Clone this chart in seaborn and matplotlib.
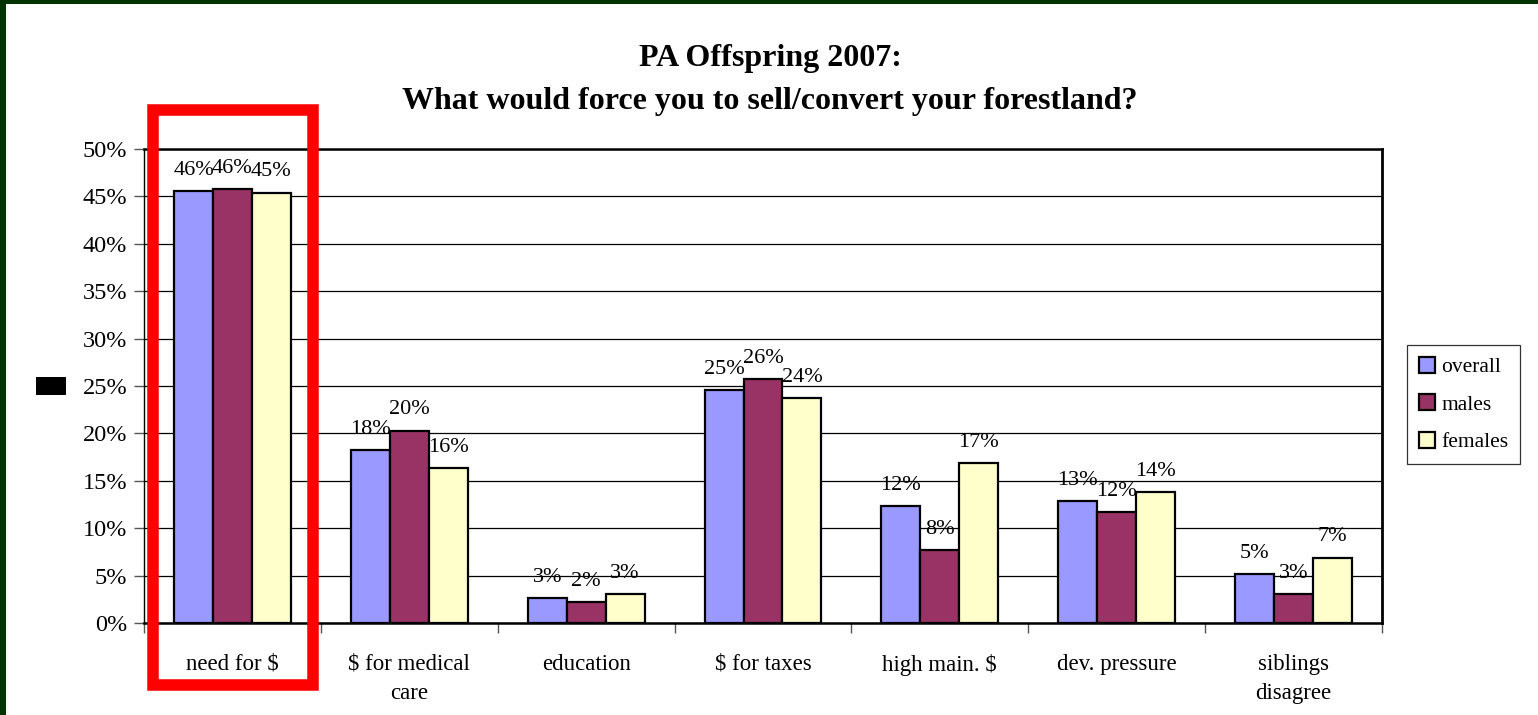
import matplotlib
matplotlib.use("Agg")
import matplotlib.pyplot as plt
import matplotlib.patches as mpatches
from matplotlib.ticker import FixedLocator, FuncFormatter
import seaborn as sns
import pandas as pd

categories = ["need for $", "$ for medical\ncare", "education", "$ for taxes",
              "high main. $", "dev. pressure", "siblings\ndisagree"]
overall = [45.6, 18.2, 2.6, 24.6, 12.3, 12.9, 5.2]
males = [45.8, 20.3, 2.2, 25.7, 7.7, 11.7, 3.1]
females = [45.4, 16.3, 3.1, 23.7, 16.9, 13.8, 6.9]
groups = ["overall", "males", "females"]
colors = ["#9999FF", "#993366", "#FFFFCC"]
title = "PA Offspring 2007:\nWhat would force you to sell/convert your forestland?"

rows = []
for g, vals in zip(groups, [overall, males, females]):
    for c, v in zip(categories, vals):
        rows.append({"category": c, "group": g, "value": v})
df = pd.DataFrame(rows)

sns.set_theme(style="white")
plt.rcParams["font.family"] = ["Liberation Serif", "DejaVu Serif"]
plt.rcParams["text.color"] = "black"
plt.rcParams["xtick.color"] = "black"
plt.rcParams["ytick.color"] = "black"

W, H = 1538, 715
fig = plt.figure(figsize=(W / 100, H / 100), dpi=100)
fig.patch.set_facecolor("white")
ax = fig.add_axes([144 / W, 1 - 623 / H, (1382 - 144) / W, (623 - 149) / H])

sns.barplot(data=df, x="category", y="value", hue="group", order=categories,
            hue_order=groups, palette=colors, width=0.66, edgecolor="black",
            linewidth=1.6, saturation=1, ax=ax, errorbar=None)

ax.set_ylim(0, 50)
ax.set_xlim(-0.5, len(categories) - 0.5)
ax.yaxis.set_major_locator(FixedLocator(list(range(0, 51, 5))))
ax.yaxis.set_major_formatter(FuncFormatter(lambda v, p: f"{v:.0f}%"))
ax.set_axisbelow(True)
ax.yaxis.grid(True, color="black", linewidth=0.9)
ax.set_xlabel("")
ax.set_ylabel("")
ax.tick_params(axis="y", labelsize=17.5, length=7, width=1, color="#555555",
               labelcolor="black", left=True, direction="out", pad=5)
ax.tick_params(axis="x", which="major", labelsize=16.5, length=0, pad=22,
               labelcolor="black")
ax.set_xticks([i + 0.5 for i in range(-1, len(categories))], minor=True)
ax.tick_params(axis="x", which="minor", length=7, width=1, color="#555555",
               bottom=True, direction="out")
for lab in ax.get_xticklabels():
    lab.set_linespacing(1.5)

for s in ["top", "right", "bottom", "left"]:
    ax.spines[s].set_visible(True)
    ax.spines[s].set_color("black")
ax.spines["top"].set_linewidth(1.8)
ax.spines["right"].set_linewidth(2.0)
ax.spines["bottom"].set_linewidth(1.8)
ax.spines["left"].set_linewidth(1.0)

for cont in ax.containers:
    ax.bar_label(cont, fmt="{:.0f}%", padding=8, fontsize=16, color="black")

handles, labels = ax.get_legend_handles_labels()
if ax.get_legend() is not None:
    ax.get_legend().remove()
leg = fig.legend(handles, labels, loc="upper left",
                 bbox_to_anchor=(1407 / W, 1 - 345 / H),
                 bbox_transform=fig.transFigure, frameon=True, fancybox=False,
                 fontsize=15.5, handlelength=0.75, handleheight=0.75,
                 handletextpad=0.3, labelspacing=0.8, borderpad=0.55,
                 borderaxespad=0)
leg.get_frame().set_edgecolor("black")
leg.get_frame().set_linewidth(0.9)
for h in leg.legend_handles:
    h.set_edgecolor("black")
    h.set_linewidth(1.6)

fig.text(770 / W, 1 - 80 / H, title, ha="center", va="center", fontsize=23,
         fontweight="bold", linespacing=1.6, color="black")

# red highlight box
fig.patches.append(mpatches.Rectangle((152.5 / W, 1 - 685 / H),
                                      (312.5 - 152.5) / W, (685 - 109.5) / H,
                                      transform=fig.transFigure, fill=False,
                                      edgecolor="#FF0000", linewidth=8.3,
                                      zorder=10))
# small black block
fig.patches.append(mpatches.Rectangle((36 / W, 1 - 395 / H), 30 / W, 18 / H,
                                      transform=fig.transFigure,
                                      facecolor="black", edgecolor="none"))
# dark green frame strips
fig.patches.append(mpatches.Rectangle((0, 0), 6 / W, 1, transform=fig.transFigure,
                                      facecolor="#013301", edgecolor="none"))
fig.patches.append(mpatches.Rectangle((0, 1 - 4 / H), 1, 4 / H,
                                      transform=fig.transFigure,
                                      facecolor="#013301", edgecolor="none"))

fig.savefig("out.png", dpi=100)
